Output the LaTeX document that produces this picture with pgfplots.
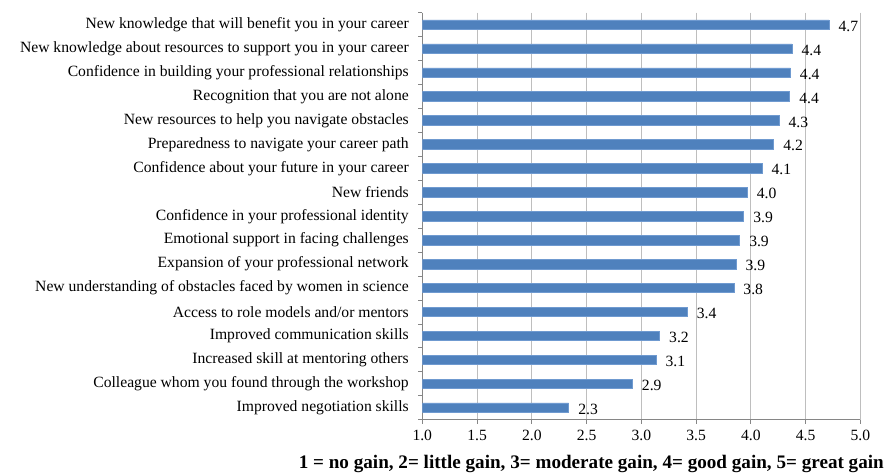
\documentclass[border=0pt]{standalone}
\usepackage{pgfplots}
\usepackage{pgfplotstable}
\pgfplotsset{compat=1.18}
\usepackage{fontspec}
\setmainfont{Liberation Serif}
\definecolor{barblue}{HTML}{4F81BD}
\definecolor{baredge}{HTML}{6F9AD0}
\definecolor{gridgray}{HTML}{BEBEBE}
\definecolor{axgray}{HTML}{868686}
\pgfplotstableread{
y x lab
0 4.714 4.7
1 4.376 4.4
2 4.361 4.4
3 4.355 4.4
4 4.258 4.3
5 4.209 4.2
6 4.102 4.1
7 3.968 4.0
8 3.935 3.9
9 3.898 3.9
10 3.865 3.9
11 3.845 3.8
12 3.420 3.4
13 3.167 3.2
14 3.134 3.1
15 2.918 2.9
16 2.337 2.3
}\datatable
\begin{document}
\begin{tikzpicture}
\useasboundingbox (-422.3bp,-54bp) rectangle (463.7bp,419.7bp);
\begin{axis}[
  at={(0,0)}, anchor=south west,
  scale only axis, width=438bp, height=407bp,
  xmin=1, xmax=5, ymin=-0.5, ymax=16.5, y dir=reverse,
  xtick={1,1.5,...,5},
  ytick={-0.5,0.5,...,16.5},
  yticklabels={},
  extra y ticks={0,...,16},
  extra y tick labels={
    New knowledge that will benefit you in your career,
    New knowledge about resources to support you in your career,
    Confidence in building your professional relationships,
    Recognition that you are not alone,
    New resources to help you navigate obstacles,
    Preparedness to navigate your career path,
    Confidence about your future in your career,
    New friends,
    Confidence in your professional identity,
    Emotional support in facing challenges,
    Expansion of your professional network,
    New understanding of obstacles faced by women in science,
    Access to role models and/or mentors,
    Improved communication skills,
    Increased skill at mentoring others,
    Colleague whom you found through the workshop,
    Improved negotiation skills},
  extra y tick style={major tick length=0pt, tick style={draw=none}},
  axis x line=bottom, axis y line=left,
  axis line style={-, draw=axgray, line width=0.8bp},
  xmajorgrids, grid style={gridgray, line width=0.8bp},
  tick align=outside, major tick length=4bp,
  tick style={axgray, line width=0.8bp},
  tick label style={font=\fontsize{15.7}{18}\selectfont, text=black},
  xticklabel style={yshift=-3bp, /pgf/number format/.cd, fixed, fixed zerofill, precision=1, assume math mode=true},
  yticklabel style={xshift=-10bp},
  xlabel={\textbf{1 = no gain, 2= little gain, 3= moderate gain, 4= good gain, 5= great gain}},
  xlabel style={font=\fontsize{19.2}{22}\selectfont, at={(axis description cs:1,0)}, anchor=north east, xshift=27bp, yshift=-32bp},
  xbar, bar width=9.5bp, bar shift=0pt,
  nodes near coords, point meta=explicit symbolic,
  every node near coord/.append style={font=\fontsize{15.7}{18}\selectfont, anchor=west, xshift=6bp, yshift=-1.5bp, text=black},
]
\addplot[fill=barblue, draw=baredge, line width=0.6bp] table[x=x, y=y, meta=lab]{\datatable};
\end{axis}
\end{tikzpicture}
\end{document}
